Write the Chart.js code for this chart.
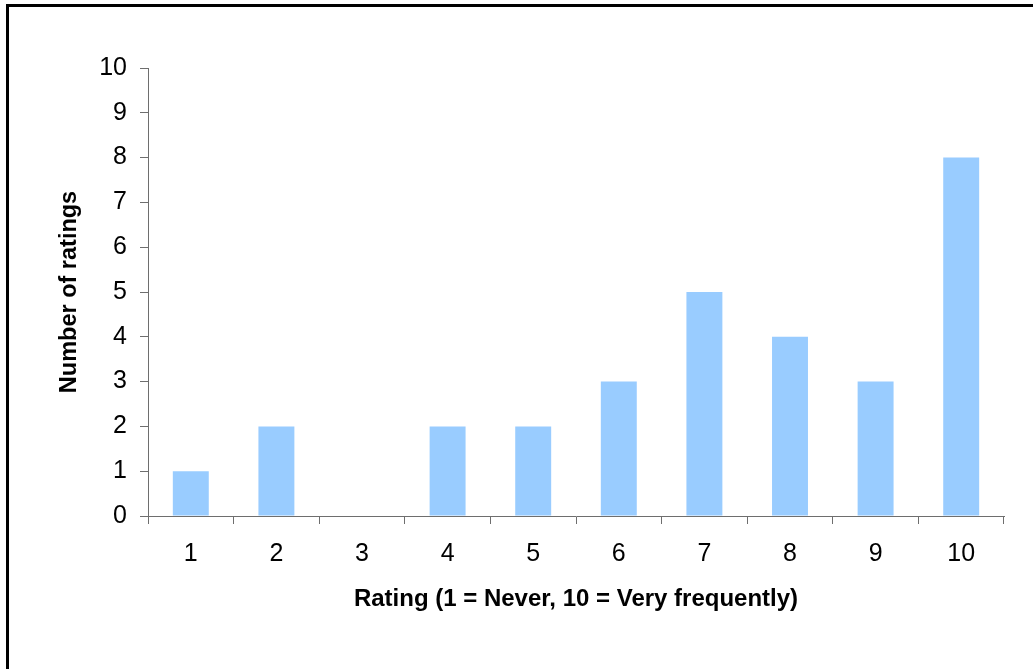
<!DOCTYPE html>
<html>
<head>
<meta charset="utf-8">
<script src="https://cdn.jsdelivr.net/npm/chart.js@4/dist/chart.umd.min.js"></script>
<style>
  html, body { margin: 0; padding: 0; background: #fff; overflow: hidden; }
  #wrap { position: absolute; left: 0; top: 0; width: 1033px; height: 669px; }
  #frame { position: absolute; left: 6px; top: 4px; width: 1100px; height: 700px;
           border-left: 3px solid #000; border-top: 3px solid #000; pointer-events: none; }
</style>
</head>
<body>
<div id="wrap">
  <canvas id="c" width="1033" height="669"></canvas>
  <div id="frame"></div>
</div>
<script>
// Rating categories and how many ratings each received
const ratings = ['1', '2', '3', '4', '5', '6', '7', '8', '9', '10'];
const counts = [1, 2, 0, 2, 2, 3, 5, 4, 3, 8];
const yTicks = [0, 1, 2, 3, 4, 5, 6, 7, 8, 9, 10];

const xTitle = 'Rating (1 = Never, 10 = Very frequently)';
const yTitle = 'Number of ratings';

const axisColor = '#6e6e6e';
const fontFamily = "Arial, 'Liberation Sans', sans-serif";

new Chart(document.getElementById('c'), {
  type: 'bar',
  data: {
    labels: ratings,
    datasets: [{
      data: counts,
      backgroundColor: '#99CCFF',
      borderWidth: 0,
      categoryPercentage: 1,
      barPercentage: 0.42
    }]
  },
  options: {
    responsive: false,
    animation: false,
    layout: { padding: { left: 51, top: 68, right: 29, bottom: 51 } },
    plugins: { legend: { display: false }, tooltip: { enabled: false } },
    scales: {
      x: {
        type: 'category',
        grid: { display: true, offset: true, drawOnChartArea: false, drawTicks: true,
                tickLength: 8, tickColor: axisColor, lineWidth: 1 },
        border: { display: true, color: axisColor, width: 1 },
        ticks: { color: '#000', padding: 15, font: { family: fontFamily, size: 25 }, maxRotation: 0 },
        title: { display: true, text: xTitle, color: '#000', padding: { top: 4, bottom: 4 },
                 font: { family: fontFamily, size: 24, weight: 'bold' } },
        afterFit: s => { s.height = 102; }
      },
      y: {
        min: 0, max: 10,
        afterBuildTicks: s => { s.ticks = yTicks.map(v => ({ value: v })); },
        grid: { display: true, drawOnChartArea: false, drawTicks: true,
                tickLength: 8, tickColor: axisColor, lineWidth: 1 },
        border: { display: true, color: axisColor, width: 1 },
        ticks: { color: '#000', padding: 13, font: { family: fontFamily, size: 25 } },
        title: { display: true, text: yTitle, color: '#000', padding: { top: 4, bottom: 4 },
                 font: { family: fontFamily, size: 23.5, weight: 'bold' } },
        afterFit: s => { s.width = 97; }
      }
    }
  }
});
</script>
</body>
</html>
